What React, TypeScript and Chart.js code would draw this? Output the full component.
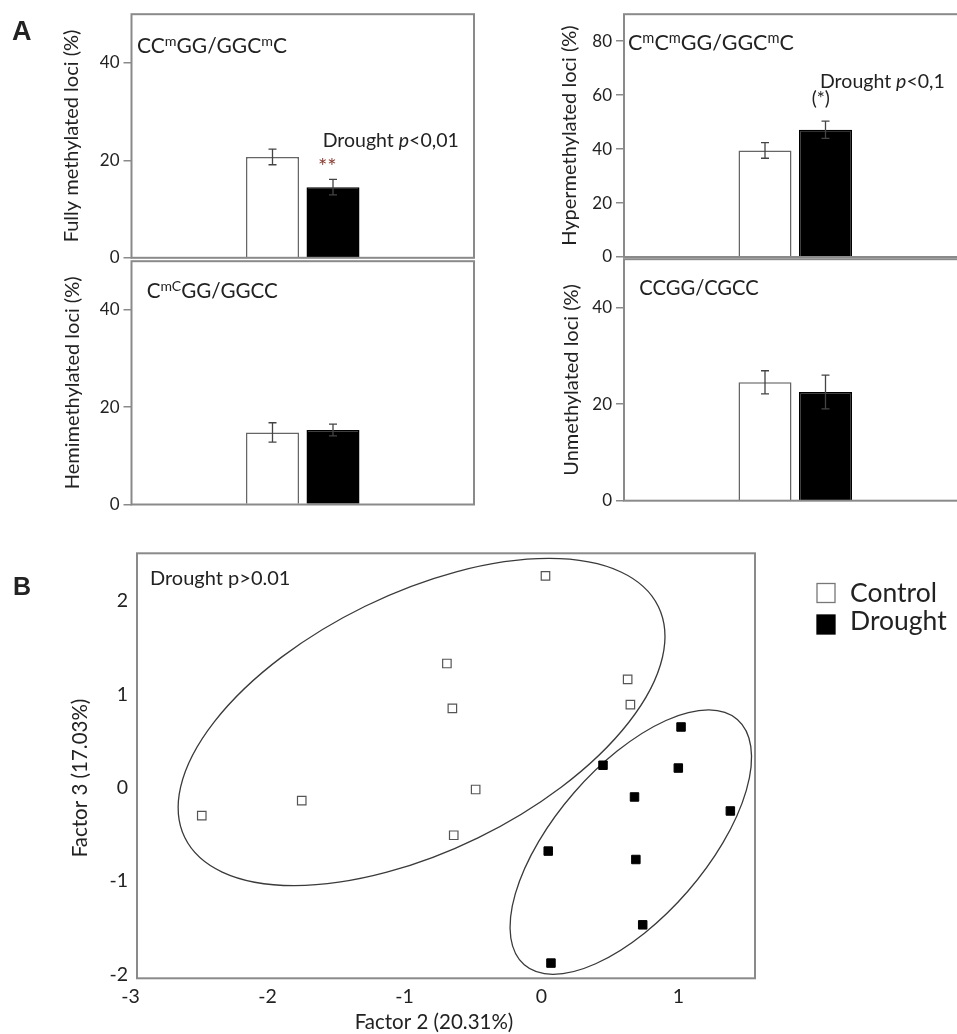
import React, { useEffect, useRef } from "react";
import { Chart, registerables } from "chart.js";

Chart.register(...registerables);

const FONT = "Lato, 'Noto Sans', 'DejaVu Sans', sans-serif";
const TEXT = "#222";
const FRAME = "#8a8a8a";

// ---------- Panel A data ----------
const treatments = ["Control", "Drought"];
const fullyMean = [20.7, 14.5];
const fullyErr = [1.6, 1.6];
const hyperMean = [39.5, 47.2];
const hyperErr = [2.9, 3.2];
const hemiMean = [14.8, 15.3];
const hemiErr = [2.0, 1.2];
const unmethMean = [24.5, 22.5];
const unmethErr = [2.4, 3.5];
const ticks0to40 = [0, 20, 40];
const ticks0to80 = [0, 20, 40, 60, 80];

// ---------- Panel B data ----------
const controlF2 = [-2.48, -1.75, -0.69, -0.65, -0.48, -0.64, 0.03, 0.63, 0.65];
const controlF3 = [-0.3, -0.14, 1.33, 0.85, -0.02, -0.51, 2.27, 1.16, 0.89];
const droughtF2 = [1.02, 0.45, 1.0, 0.68, 1.38, 0.05, 0.69, 0.74, 0.07];
const droughtF3 = [0.65, 0.24, 0.21, -0.1, -0.25, -0.68, -0.77, -1.47, -1.88];
const factor2Ticks = [-3, -2, -1, 0, 1];
const factor3Ticks = [-2, -1, 0, 1, 2];
const factor2Title = "Factor 2 (20.31%)";
const factor3Title = "Factor 3 (17.03%)";
// confidence ellipses: centre and two semi-axis vectors (data units)
const controlEllipse = { cx: -0.875, cy: 0.703, ux: 1.729, uy: 1.238, vx: -0.412, vy: 1.241 };
const droughtEllipse = { cx: 0.653, cy: -0.584, ux: 0.778, uy: 1.314, vx: -0.415, vy: 0.529 };

type Seg = { t: string; sup?: boolean; it?: boolean };
type Label = { segs: Seg[]; x: number; y: number; size: number; color?: string; bold?: boolean; family?: string };

function drawRich(ctx: CanvasRenderingContext2D, l: Label, ox: number, oy: number) {
  ctx.save();
  ctx.textBaseline = "alphabetic";
  ctx.textAlign = "left";
  ctx.fillStyle = l.color || TEXT;
  let cx = l.x - ox;
  for (const s of l.segs) {
    const fs = s.sup ? l.size * 0.68 : l.size;
    ctx.font = `${s.it ? "italic " : ""}${l.bold ? "bold " : ""}${fs}px ${l.family || FONT}`;
    const dy = s.sup ? -l.size * 0.34 : 0;
    ctx.fillText(s.t, cx, l.y - oy + dy);
    cx += ctx.measureText(s.t).width;
  }
  ctx.restore();
}

const framePlugin = {
  id: "frame",
  afterDraw(chart: any) {
    const { ctx, chartArea: a } = chart;
    ctx.save();
    ctx.strokeStyle = FRAME;
    ctx.lineWidth = 2;
    ctx.strokeRect(a.left, a.top, a.right - a.left, a.bottom - a.top);
    ctx.restore();
  },
};

interface Area { l: number; t: number; r: number; b: number }
interface BarPanelProps {
  left: number; top: number; width: number; height: number;
  area: Area; titleX: number; yTitle: string; yMax: number; yTicks: number[];
  means: number[]; errs: number[]; labels: Label[];
}

function BarPanel(p: BarPanelProps) {
  const ref = useRef<HTMLCanvasElement>(null);
  useEffect(() => {
    const titleSize = 20;
    const padL = p.titleX - p.left - (titleSize * 1.2) / 2;
    const errPlugin = {
      id: "err",
      afterDatasetsDraw(chart: any) {
        const { ctx } = chart;
        const ys = chart.scales.y;
        ctx.save();
        ctx.strokeStyle = "#444";
        ctx.lineWidth = 1.3;
        p.means.forEach((m, i) => {
          const bar = chart.getDatasetMeta(i).data[0];
          const x = bar.x;
          const y1 = ys.getPixelForValue(m + p.errs[i]);
          const y2 = ys.getPixelForValue(m - p.errs[i]);
          ctx.beginPath();
          ctx.moveTo(x, y1); ctx.lineTo(x, y2);
          ctx.moveTo(x - 4, y1); ctx.lineTo(x + 4, y1);
          ctx.moveTo(x - 4, y2); ctx.lineTo(x + 4, y2);
          ctx.stroke();
        });
        ctx.restore();
      },
    };
    const labelPlugin = {
      id: "labels",
      afterDraw(chart: any) {
        p.labels.forEach((l) => drawRich(chart.ctx, l, p.left, p.top));
      },
    };
    const chart = new Chart(ref.current!, {
      type: "bar",
      data: {
        labels: [""],
        datasets: treatments.map((name, i) => ({
          label: name,
          data: [p.means[i]],
          backgroundColor: i === 0 ? "#ffffff" : "#000000",
          borderColor: i === 0 ? "#666666" : "#000000",
          borderWidth: 1.5,
          categoryPercentage: 121 / 342.5,
          barPercentage: 53 / 60.5,
        })),
      },
      options: {
        responsive: false,
        maintainAspectRatio: false,
        animation: false,
        layout: {
          padding: {
            left: padL,
            top: p.area.t - p.top,
            right: p.left + p.width - p.area.r,
            bottom: p.top + p.height - p.area.b,
          },
        },
        plugins: { legend: { display: false }, tooltip: { enabled: false } },
        scales: {
          x: { display: false },
          y: {
            min: 0,
            max: p.yMax,
            afterBuildTicks: (s: any) => { s.ticks = p.yTicks.map((v) => ({ value: v })); },
            afterFit: (s: any) => { s.width = p.area.l - p.left - padL; },
            ticks: { autoSkip: false, padding: 4, color: TEXT, font: { size: 17, family: FONT } },
            grid: { drawOnChartArea: false, drawTicks: true, tickLength: 8, color: FRAME, lineWidth: 1.5 },
            border: { display: false },
            title: { display: true, text: p.yTitle, color: TEXT, padding: 0, font: { size: titleSize, family: FONT } },
          },
        },
      },
      plugins: [framePlugin, errPlugin, labelPlugin],
    } as any);
    return () => chart.destroy();
  }, []);
  return (
    <canvas
      ref={ref}
      width={p.width}
      height={p.height}
      style={{ position: "absolute", left: p.left, top: p.top, width: p.width, height: p.height }}
    />
  );
}

function ScatterPanel() {
  const ref = useRef<HTMLCanvasElement>(null);
  const left = 0, top = 530, width = 957, height = 504;
  useEffect(() => {
    const axisTitleSize = 20.5;
    const ellipsePlugin = {
      id: "ellipses",
      beforeDatasetsDraw(chart: any) {
        const { ctx } = chart;
        const xs = chart.scales.x, ys = chart.scales.y;
        ctx.save();
        ctx.strokeStyle = "#3a3a3a";
        ctx.lineWidth = 1.3;
        [controlEllipse, droughtEllipse].forEach((e) => {
          const px = xs.getPixelForValue(e.cx), py = ys.getPixelForValue(e.cy);
          const ux = xs.getPixelForValue(e.cx + e.ux) - px, uy = ys.getPixelForValue(e.cy + e.uy) - py;
          const vx = xs.getPixelForValue(e.cx + e.vx) - px, vy = ys.getPixelForValue(e.cy + e.vy) - py;
          ctx.save();
          ctx.beginPath();
          ctx.transform(ux, uy, vx, vy, px, py);
          ctx.arc(0, 0, 1, 0, Math.PI * 2);
          ctx.restore();
          ctx.stroke();
        });
        ctx.restore();
      },
    };
    const extrasPlugin = {
      id: "extras",
      afterDraw(chart: any) {
        const { ctx } = chart;
        drawRich(ctx, { segs: [{ t: "B" }], x: 13, y: 595, size: 25, bold: true, family: "'Liberation Sans', Arial, sans-serif" }, left, top);
        drawRich(ctx, { segs: [{ t: "Drought p>0.01" }], x: 150, y: 585, size: 20 }, left, top);
        // axis titles
        ctx.save();
        ctx.fillStyle = TEXT;
        ctx.font = `${axisTitleSize}px ${FONT}`;
        ctx.textAlign = "center";
        ctx.textBaseline = "middle";
        ctx.fillText(factor2Title, 434, 1022 - top);
        ctx.translate(80, 778 - top);
        ctx.rotate(-Math.PI / 2);
        ctx.fillText(factor3Title, 0, 0);
        ctx.restore();
        // legend
        chart.data.datasets.forEach((ds: any, i: number) => {
          const sy = 583.5 + i * 31.5 - top;
          ctx.save();
          ctx.fillStyle = ds.backgroundColor;
          ctx.strokeStyle = i === 0 ? "#777" : "#000";
          ctx.lineWidth = 1.3;
          ctx.fillRect(817, sy, 18, 19);
          ctx.strokeRect(817, sy, 18, 19);
          ctx.restore();
          drawRich(ctx, { segs: [{ t: ds.label }], x: 850, y: 601.7 + i * 28.5, size: 26.5 }, left, top);
        });
      },
    };
    const chart = new Chart(ref.current!, {
      type: "scatter",
      data: {
        datasets: [
          {
            label: "Control",
            data: controlF2.map((x, i) => ({ x, y: controlF3[i] })),
            pointStyle: "rect",
            pointRadius: 6,
            backgroundColor: "#ffffff",
            borderColor: "#555555",
            borderWidth: 1.2,
          },
          {
            label: "Drought",
            data: droughtF2.map((x, i) => ({ x, y: droughtF3[i] })),
            pointStyle: "rect",
            pointRadius: 6,
            backgroundColor: "#000000",
            borderColor: "#000000",
            borderWidth: 1,
          },
        ],
      },
      options: {
        responsive: false,
        maintainAspectRatio: false,
        animation: false,
        layout: { padding: { left: 0, top: 553.3 - top, right: width - 755, bottom: 0 } },
        plugins: { legend: { display: false }, tooltip: { enabled: false } },
        scales: {
          x: {
            type: "linear",
            min: -2.953,
            max: 1.56,
            bounds: "data",
            afterBuildTicks: (s: any) => { s.ticks = factor2Ticks.map((v) => ({ value: v })); },
            afterFit: (s: any) => { s.height = top + height - 978.3; },
            ticks: { autoSkip: false, padding: 7, color: TEXT, font: { size: 19.5, family: FONT }, callback: (v: any) => String(v) },
            grid: { display: false, drawTicks: false },
            border: { display: false },
          },
          y: {
            type: "linear",
            min: -2.043,
            max: 2.511,
            bounds: "data",
            afterBuildTicks: (s: any) => { s.ticks = factor3Ticks.map((v) => ({ value: v })); },
            afterFit: (s: any) => { s.width = 137; },
            ticks: { autoSkip: false, padding: 9, color: TEXT, font: { size: 19.5, family: FONT }, callback: (v: any) => String(v) },
            grid: { display: false, drawTicks: false },
            border: { display: false },
          },
        },
      },
      plugins: [framePlugin, ellipsePlugin, extrasPlugin],
    } as any);
    return () => chart.destroy();
  }, []);
  return (
    <canvas
      ref={ref}
      width={width}
      height={height}
      style={{ position: "absolute", left, top, width, height }}
    />
  );
}

const tlLabels: Label[] = [
  { segs: [{ t: "A" }], x: 12, y: 40, size: 27, bold: true, family: "'Liberation Sans', Arial, sans-serif" },
  { segs: [{ t: "CC" }, { t: "m", sup: true }, { t: "GG/GGC" }, { t: "m", sup: true }, { t: "C" }], x: 137, y: 52.7, size: 21 },
  { segs: [{ t: "Drought " }, { t: "p", it: true }, { t: "<0,01" }], x: 322.7, y: 147.3, size: 19.5 },
  { segs: [{ t: "**" }], x: 318, y: 174, size: 22, color: "#8b3f33" },
];
const trLabels: Label[] = [
  { segs: [{ t: "C" }, { t: "m", sup: true }, { t: "C" }, { t: "m", sup: true }, { t: "GG/GGC" }, { t: "m", sup: true }, { t: "C" }], x: 628, y: 50, size: 21.5 },
  { segs: [{ t: "Drought " }, { t: "p", it: true }, { t: "<0,1" }], x: 820, y: 88.3, size: 19.5 },
  { segs: [{ t: "(*)" }], x: 811.7, y: 105, size: 19 },
];
const blLabels: Label[] = [
  { segs: [{ t: "C" }, { t: "mC", sup: true }, { t: "GG/GGCC" }], x: 146.7, y: 298.3, size: 20.6 },
];
const brLabels: Label[] = [
  { segs: [{ t: "CCGG/CGCC" }], x: 639.3, y: 295, size: 20.2 },
];

export default function App() {
  return (
    <div style={{ position: "absolute", left: 0, top: 0, width: 957, height: 1034, overflow: "hidden", background: "#fff" }}>
      <BarPanel left={0} top={0} width={480} height={272} area={{ l: 131.5, t: 12, r: 474, b: 259 }}
        titleX={72} yTitle="Fully methylated loci (%)" yMax={50} yTicks={ticks0to40}
        means={fullyMean} errs={fullyErr} labels={tlLabels} />
      <BarPanel left={0} top={247} width={480} height={272} area={{ l: 131.5, t: 259, r: 474, b: 504.5 }}
        titleX={73} yTitle="Hemimethylated loci (%)" yMax={50} yTicks={ticks0to40}
        means={hemiMean} errs={hemiErr} labels={blLabels} />
      <BarPanel left={480} top={0} width={500} height={272} area={{ l: 624, t: 12, r: 966.5, b: 257 }}
        titleX={570} yTitle="Hypermethylated loci (%)" yMax={90} yTicks={ticks0to80}
        means={hyperMean} errs={hyperErr} labels={trLabels} />
      <BarPanel left={480} top={245} width={500} height={272} area={{ l: 624, t: 257, r: 966.5, b: 500.7 }}
        titleX={572} yTitle="Unmethylated loci (%)" yMax={50} yTicks={ticks0to40}
        means={unmethMean} errs={unmethErr} labels={brLabels} />
      <ScatterPanel />
    </div>
  );
}
